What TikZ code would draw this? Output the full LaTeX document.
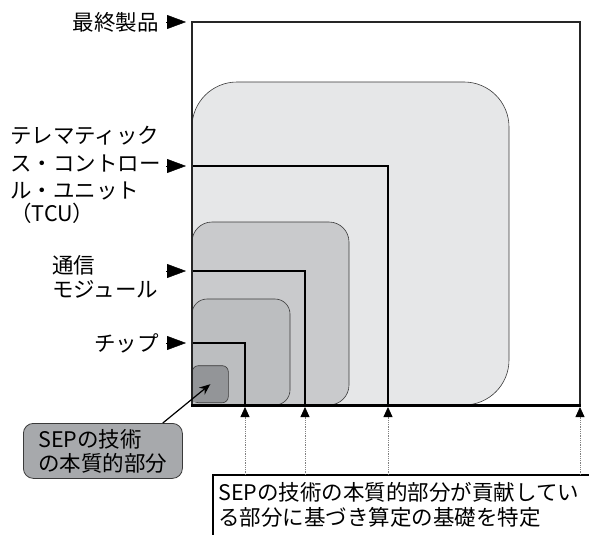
\documentclass[tikz,border=0pt]{standalone}
\usepackage{fontspec}
\setmainfont{Noto Sans CJK JP}
\usetikzlibrary{arrows.meta}
\definecolor{gTCU}{HTML}{E6E7E8}
\definecolor{gMod}{HTML}{C9CACC}
\definecolor{gChip}{HTML}{BCBEC0}
\definecolor{gDark}{HTML}{939598}
\definecolor{gSep}{HTML}{A7A9AC}
\definecolor{edge}{HTML}{3A3A3A}
\begin{document}
\begin{tikzpicture}[x=1pt,y=-1pt,
  font=\fontsize{21.5}{25}\selectfont,
  lbl/.style={inner sep=0pt},
  tri/.style={-{Triangle[length=19pt,width=14pt]}, line width=0.4pt, black},
  uptri/.style={-{Triangle[length=10pt,width=9pt,color=black]}, densely dotted, gray, line width=0.8pt},
  level/.style={draw=edge, line width=0.6pt},
  blk/.style={line width=1.8pt, black}]
\useasboundingbox (0,0) rectangle (589,535);

% rounded shaded areas
\draw[level, fill=gTCU, rounded corners=45pt] (192,82) rectangle (509,405);
\fill[gTCU] (193,355) rectangle (245,404);
\draw[level, fill=gMod, rounded corners=20pt] (192,222) rectangle (349,405);
\fill[gMod] (193,380) rectangle (215,404);
\draw[level, fill=gChip, rounded corners=15pt] (192,299) rectangle (290,405);
\fill[gChip] (193,385) rectangle (210,404);
\node[level, fill=gDark, rounded corners=6pt, minimum width=36pt, minimum height=37pt, anchor=south west, inner sep=0pt] (dark) at (192,403) {};
\fill[gDark] (193,393) rectangle (202,402);

% level boundary lines
\draw[blk] (192,166) -| (388,405);
\draw[blk] (192,271) -| (305,405);
\draw[blk] (192,343) -| (245,405);

% outer square (final product)
\draw[line width=1.5pt, draw=black!85] (192,22) rectangle (580,405);
\draw[line width=3pt] (191,405) -- (581,405);

% left labels
\node[lbl, anchor=east] (fin) at (159,22) {最終製品};
\node[lbl, anchor=north west, align=left, font=\fontsize{21.5}{27.5}\selectfont] (tcu) at (10,126) {テレマティック\\ス・コントロー\\ル・ユニット\\[-5pt]（TCU）};
\node[lbl, anchor=west, align=left, font=\fontsize{21.5}{23.5}\selectfont] (mod) at (52,277) {通信\\モジュール};
\node[lbl, anchor=east] (chip) at (159,343) {チップ};

\coordinate (finA) at (166,22);   \coordinate (finB) at (186,22);
\coordinate (tcuA) at (166,166);  \coordinate (tcuB) at (186,166);
\coordinate (modA) at (166,271);  \coordinate (modB) at (186,271);
\coordinate (chipA) at (166,343); \coordinate (chipB) at (186,343);
\draw[tri] (finA) -- (finB);
\draw[tri] (tcuA) -- (tcuB);
\draw[tri] (modA) -- (modB);
\draw[tri] (chipA) -- (chipB);

% SEP essential part box
\node[draw=edge, fill=gSep, line width=0.8pt, rounded corners=10pt, anchor=north west, align=left,
      text width=129pt, inner xsep=15pt, inner ysep=3pt, minimum height=55pt,
      font=\fontsize{21.5}{24}\selectfont] (sep) at (23,423) {SEPの技術\\の本質的部分};
\draw[-{Stealth[length=11pt,width=9pt]}, line width=1.2pt] ([xshift=-20pt]sep.north east) -- (dark.center);

% bottom explanation box
\draw[line width=1.8pt] (213,545) -- (213,475) -- (600,475);
\node[lbl, anchor=north west, align=left, font=\fontsize{21.5}{25}\selectfont] (base) at (218,482) {SEPの技術の本質的部分が貢献してい\\る部分に基づき算定の基礎を特定};

\coordinate (b1) at (245,475); \coordinate (t1) at (245,407);
\coordinate (b2) at (305,475); \coordinate (t2) at (305,407);
\coordinate (b3) at (388,475); \coordinate (t3) at (388,407);
\coordinate (b4) at (580,475); \coordinate (t4) at (580,407);
\draw[uptri] (b1) -- (t1);
\draw[uptri] (b2) -- (t2);
\draw[uptri] (b3) -- (t3);
\draw[uptri] (b4) -- (t4);
\end{tikzpicture}
\end{document}
